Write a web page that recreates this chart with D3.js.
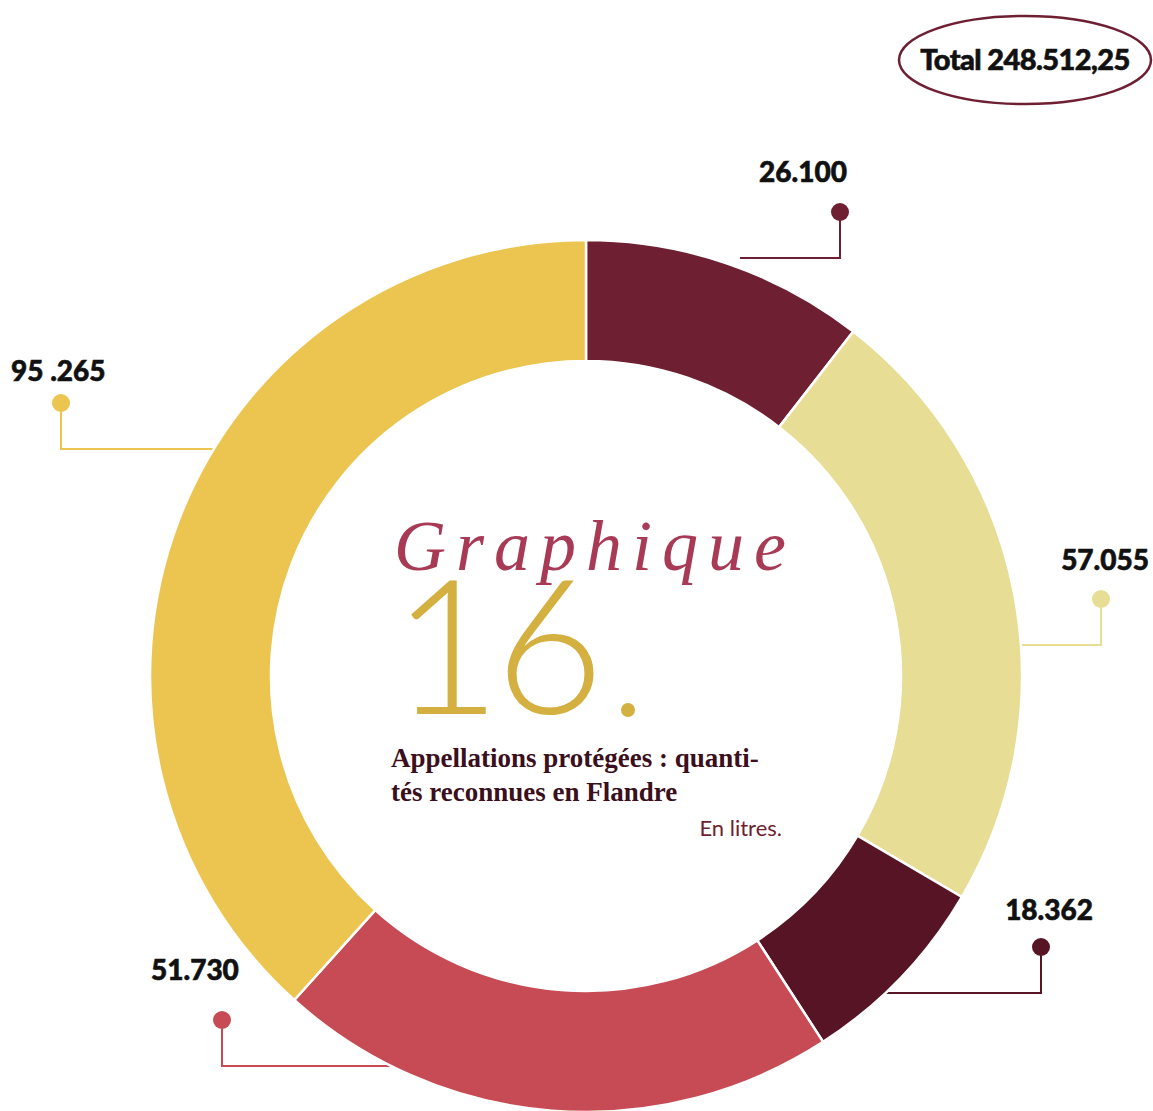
<!DOCTYPE html>
<html>
<head>
<meta charset="utf-8">
<script src="https://cdn.jsdelivr.net/npm/d3@7"></script>
<style>
  body { margin: 0; background: #fff; }
</style>
</head>
<body>
<div class="svg-container"></div>
<script>
// data, clockwise from 12 o'clock
var labels = ["26.100", "57.055", "18.362", "51.730", "95 .265"];
var values = [26100, 57055, 18362, 51730, 95265];
var colors = ["#6e1f32", "#e8dd94", "#571425", "#c64b55", "#ecc551"];
var totalLabel = "Total 248.512,25";

var width = 1153, height = 1111;
var cx = 586, cy = 676, outerR = 436, innerR = 315;

var svg = d3.select(".svg-container").append("svg")
    .attr("width", width)
    .attr("height", height);

var pie = d3.pie().sort(null).value(function (d) { return d; });
var arc = d3.arc().innerRadius(innerR).outerRadius(outerR);
var arcs = pie(values);

// callout placement: dot position, label position, end of horizontal run
var callouts = [
    {dot: [840, 212], labelX: 803, anchor: "middle", labelY: 182, endX: 740},
    {dot: [1101, 599], labelX: 1149, anchor: "end", labelY: 570, endX: 1010},
    {dot: [1041, 947], labelX: 1093, anchor: "end", labelY: 920, endX: 870},
    {dot: [222, 1020], labelX: 151, anchor: "start", labelY: 980, endX: 400},
    {dot: [61, 403], labelX: 11, anchor: "start", labelY: 381, endX: 230}
];

// leader lines go behind the ring
var leaders = svg.append("g").attr("class", "leaders");
callouts.forEach(function (c, i) {
    var elbowY = c.dot[1] + 46;
    leaders.append("path")
        .attr("d", "M" + c.dot[0] + "," + c.dot[1] + "V" + elbowY + "H" + c.endX)
        .attr("fill", "none")
        .attr("stroke", colors[i])
        .attr("stroke-width", 2);
    leaders.append("circle")
        .attr("cx", c.dot[0]).attr("cy", c.dot[1]).attr("r", 9)
        .attr("fill", colors[i]);
    svg.append("text")
        .attr("x", c.labelX).attr("y", c.labelY)
        .attr("text-anchor", c.anchor)
        .style("font", "900 28px Lato, sans-serif")
        .attr("stroke", "#111").attr("stroke-width", 0.6)
        .attr("fill", "#111")
        .text(labels[i]);
});

// donut
svg.append("g")
    .attr("transform", "translate(" + cx + "," + cy + ")")
    .selectAll("path")
    .data(arcs)
    .enter().append("path")
    .attr("d", arc)
    .attr("fill", function (d, i) { return colors[i]; })
    .attr("stroke", "#fff")
    .attr("stroke-width", 2.5);

// total badge
svg.append("ellipse")
    .attr("cx", 1025).attr("cy", 60).attr("rx", 126).attr("ry", 44)
    .attr("fill", "none").attr("stroke", "#6e1f32").attr("stroke-width", 2.5);
svg.append("text")
    .attr("x", 1025).attr("y", 70)
    .attr("text-anchor", "middle")
    .style("font", "900 29px Lato, sans-serif")
    .style("letter-spacing", "-0.6px")
    .attr("stroke", "#111").attr("stroke-width", 0.6)
    .attr("fill", "#111")
    .text(totalLabel);

// center title
svg.append("text")
    .attr("x", 394).attr("y", 570)
    .style("font", "italic 72px 'Liberation Serif', serif")
    .style("letter-spacing", "10px")
    .attr("fill", "#a83a56")
    .text("Graphique");

svg.append("text")
    .attr("x", 392).attr("y", 714)
    .style("font", "300 188px Lato, sans-serif")
    .style("letter-spacing", "-6px")
    .attr("fill", "#d4b040")
    .text("16");
svg.append("circle")
    .attr("cx", 628).attr("cy", 710).attr("r", 7)
    .attr("fill", "#d4b040");

svg.append("text")
    .attr("x", 391).attr("y", 767)
    .style("font", "bold 27px 'Liberation Serif', serif")
    .attr("fill", "#3b0f1c")
    .text("Appellations protégées : quanti-");
svg.append("text")
    .attr("x", 391).attr("y", 801)
    .style("font", "bold 27px 'Liberation Serif', serif")
    .attr("fill", "#3b0f1c")
    .text("tés reconnues en Flandre");
svg.append("text")
    .attr("x", 782).attr("y", 836)
    .attr("text-anchor", "end")
    .style("font", "22px Lato, sans-serif")
    .attr("fill", "#6e1f32")
    .text("En litres.");
</script>
</body>
</html>
